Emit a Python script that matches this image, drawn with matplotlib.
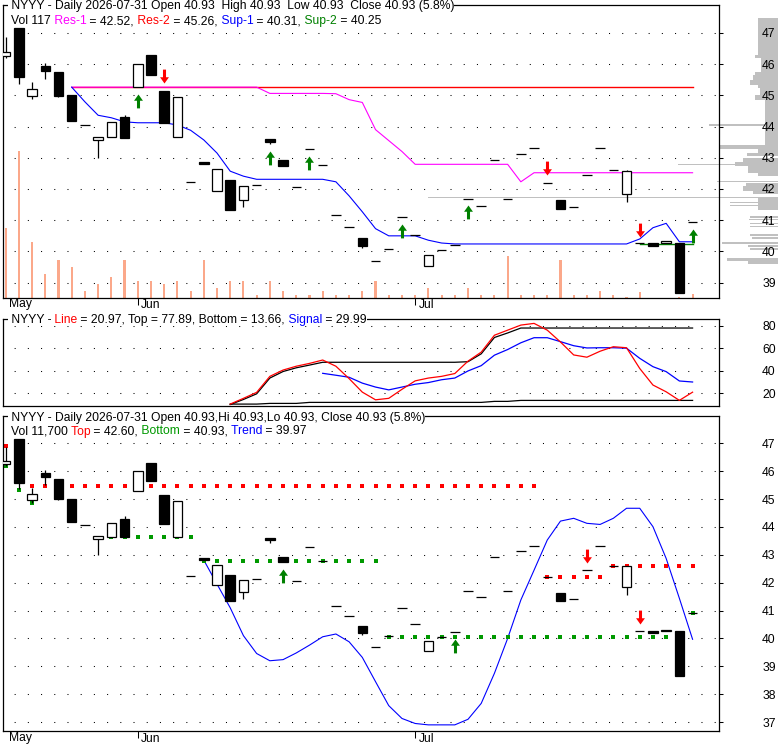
import numpy as np
import matplotlib
matplotlib.use('Agg')
import matplotlib.pyplot as plt
from matplotlib.path import Path
from matplotlib.transforms import blended_transform_factory, offset_copy

plt.rcParams['font.family'] = ['Liberation Sans', 'DejaVu Sans']
plt.rcParams['lines.scale_dashes'] = False

nan = np.nan

# ------------------------------------------------------------------ data
month_labels = ['May', 'Jun', 'Jul']
month_pos = [0, 10, 31]

opens = [46.27, 47.15, 44.97, 45.93, 45.73, 45.00, 44.06, 43.56, 43.65, 44.30,
         45.28, 46.29, 45.14, 43.65, 42.23, 42.87, 41.93, 42.28, 41.66, 42.12,
         43.60, 42.92, 42.05, 43.27, 42.78, 41.16, 40.79, 40.44, 39.70, 40.07,
         41.09, 40.52, 39.55, 40.05, 40.22, 41.69, 41.47, 42.92, 41.69, 43.12,
         43.30, 42.19, 41.64, 41.41, 42.45, 43.32, 42.60, 41.83, 40.26, 40.27,
         40.26, 40.27, 40.93]
highs = [46.87, 47.15, 45.41, 46.03, 45.73, 45.00, 44.06, 43.66, 44.13, 44.38,
         46.00, 46.29, 45.14, 44.93, 42.23, 42.87, 42.63, 42.28, 42.09, 42.12,
         43.60, 42.92, 42.05, 43.27, 42.78, 41.16, 40.79, 40.44, 39.70, 40.07,
         41.09, 40.52, 39.90, 40.05, 40.22, 41.69, 41.47, 42.92, 41.69, 43.12,
         43.30, 42.19, 41.64, 41.41, 42.45, 43.32, 42.60, 42.60, 40.26, 40.27,
         40.32, 40.27, 40.93]
lows = [46.18, 45.35, 44.87, 45.51, 44.95, 44.18, 44.06, 43.00, 43.65, 43.64,
        45.28, 45.66, 44.12, 43.65, 42.23, 42.80, 41.93, 41.33, 41.43, 42.12,
        43.44, 42.73, 42.05, 43.27, 42.78, 41.16, 40.79, 40.12, 39.70, 40.07,
        41.09, 40.52, 39.55, 40.05, 40.22, 41.69, 41.47, 42.92, 41.69, 43.12,
        43.30, 42.19, 41.35, 41.41, 42.45, 43.32, 42.60, 41.57, 40.26, 40.19,
        40.26, 38.66, 40.93]
closes = [46.37, 45.59, 45.19, 45.79, 44.99, 44.18, 44.06, 43.66, 44.13, 43.64,
          46.00, 45.66, 44.12, 44.93, 42.23, 42.80, 42.63, 41.33, 42.09, 42.12,
          43.52, 42.73, 42.05, 43.27, 42.78, 41.16, 40.79, 40.18, 39.70, 40.07,
          41.09, 40.52, 39.90, 40.05, 40.22, 41.69, 41.47, 42.92, 41.69, 43.12,
          43.30, 42.19, 41.35, 41.41, 42.45, 43.32, 42.60, 42.59, 40.26, 40.19,
          40.32, 38.66, 40.93]
volumes = [190000, 400000, 153000, 66000, 104000, 85000, 20000, 39000, 58000, 104000,
           47000, 47000, 39000, 47000, 20000, 104000, 28000, 47000, 47000, 9000,
           47000, 20000, 9000, 9000, 20000, 9000, 9000, 20000, 47000, 9000,
           9000, 9000, 28000, 9000, 9000, 28000, 9000, 9000, 115000, 9000,
           9000, 9000, 104000, 9000, 9000, 20000, 9000, 4000, 17000, 0,
           0, 4000, 11700]

res1 = [nan] * 5 + [45.26] * 15 + [45.06] * 5 + [45.05, 44.86, 44.77, 43.90, 43.55, 43.20] \
       + [42.79] * 8 + [42.23] + [42.52] * 13
res2 = [nan] * 5 + [45.26] * 48
sup1 = [nan] * 5 + [45.26, 44.79, 44.36, 44.28, 44.15, 44.12, 44.12, 44.12, 44.05, 43.88,
                    43.57, 43.15, 42.57, 42.41, 42.31] + [42.31] * 5 \
       + [42.23, 41.78, 41.27, 40.73, 40.50, 40.50, 40.50, 40.36, 40.27] + [40.24] * 14 \
       + [40.40, 40.76, 40.90, 40.31, 40.31]
sup2 = [nan] * 48 + [40.25] * 5

buy_top_idx = [10, 20, 23, 30, 35, 52]
buy_top_lvl = [45.03, 43.21, 43.05, 40.87, 41.48, 40.71]
sell_top_idx = [12, 41, 48]
sell_top_lvl = [45.39, 42.45, 40.47]

# volume-at-price profile (price band low/high, volume in thousands)
vap_lo = [46.29, 46.18, 45.75, 45.65, 45.49, 45.33, 45.22, 45.01, 44.85, 43.41, 44.02, 43.29,
          43.15, 43.05, 42.85, 42.75, 42.77, 42.50, 42.40, 42.23, 42.10, 41.95, 41.85, 41.71,
          41.32, 41.54, 41.46, 41.08, 41.00, 40.88, 40.78, 40.50, 40.40, 40.23, 40.15, 40.05,
          39.68, 39.60]
vap_hi = [47.46, 46.29, 46.18, 45.75, 45.65, 45.49, 45.33, 45.22, 45.01, 44.85, 44.07, 43.40,
          43.29, 43.15, 42.99, 42.85, 42.81, 42.75, 42.50, 42.27, 42.20, 42.10, 41.95, 41.75,
          41.70, 41.57, 41.49, 41.12, 41.04, 40.92, 40.82, 40.56, 40.45, 40.29, 40.22, 40.12,
          39.78, 39.68]
vap_vol = [20, 23, 17, 23, 25, 28, 20, 18, 23, 13, 69, 58,
           20, 31, 35, 43, 100, 30, 20, 61, 32, 35, 25, 350,
           20, 48, 48, 28, 29, 28, 28, 28, 26, 56, 30, 28,
           51, 30]

osc_line = [nan] * 17 + [10.4, 15.5, 20.8, 35.0, 40.6, 44.0, 46.5, 49.5, 44.0, 33.0,
                         21.0, 14.2, 15.5, 23.5, 31.0, 33.5, 35.0, 37.5, 48.5, 56.5,
                         71.5, 76.0, 80.5, 82.0, 76.0, 65.5, 54.0, 52.0, 57.3, 61.3,
                         60.4, 42.0, 27.3, 21.3, 13.7, 20.97]
osc_signal = [nan] * 24 + [37.7, 36.0, 34.2, 29.0, 25.5, 23.0, 25.5, 28.0, 29.5, 32.0,
                           33.5, 39.8, 44.5, 53.8, 58.8, 64.8, 69.3, 69.3, 65.8, 62.2,
                           60.2, 60.4, 60.4, 60.0, 51.0, 43.6, 39.2, 30.9, 29.99]
osc_top = [nan] * 17 + [10.0, 14.5, 19.5, 33.5, 39.3, 42.6, 45.0, 47.5] + [47.5] * 10 \
          + [48.0, 55.0, 69.5, 73.5] + [77.89] * 14
osc_bottom = [nan] * 17 + [10.4] * 3 + [11.0] * 3 + [11.9] * 14 + [12.8] * 2 + [13.66] * 14

band_top = [46.90, nan] + [45.47] * 39 + [42.20] * 5 + [42.59] * 7
band_bottom = [46.19, 45.31, 44.85] + [nan] * 5 + [43.63] * 7 + [42.77] * 14 + [40.05] * 23 + [40.93]
trend = [nan] * 15 + [42.81, 41.95, 41.10, 40.10, 39.46, 39.20, 39.24, 39.48, 39.76, 40.06,
                      40.16, 39.88, 39.32, 38.45, 37.59, 37.13, 36.95, 36.90, 36.90, 36.90,
                      37.10, 37.67, 38.75, 40.00, 41.38, 42.45, 43.53, 44.21, 44.31, 44.13,
                      44.09, 44.31, 44.67, 44.67, 44.01, 42.87, 41.44, 39.97]
buy_bot_idx = [21, 34]
buy_bot_lvl = [42.48, 39.97]
sell_bot_idx = [44, 48]
sell_bot_lvl = [42.72, 40.52]

# ------------------------------------------------------------------ style
W, H = 780, 745
FS = 8.7
MAG, RED, BLUE, GREEN, DGREEN = '#FF00FF', '#FF0000', '#0000FF', '#008000', '#009900'
VOLC = '#FBA88A'
GRAYC = '#C0C0C0'
N = len(closes)
idx = np.arange(N)
XLIM = (-0.2, 54.0)
SPW = 0.9


def rect(l, t, r, b):
    return [l / W, 1 - b / H, (r - l) / W, (b - t) / H]


up_path = Path([(0, 0), (0.32, -0.45), (0.11, -0.45), (0.11, -1), (-0.11, -1),
                (-0.11, -0.45), (-0.32, -0.45), (0, 0)],
               [Path.MOVETO] + [Path.LINETO] * 6 + [Path.CLOSEPOLY])
down_path = Path([(x, -y) for x, y in up_path.vertices], up_path.codes)

fig = plt.figure(figsize=(W / 100, H / 100), dpi=100)
fig.patch.set_facecolor('white')


def style_price_axes(ax, ylim, yticks):
    ax.set_xlim(*XLIM)
    ax.set_ylim(*ylim)
    ax.set_yticks(yticks)
    ax.yaxis.tick_right()
    ax.tick_params(axis='y', length=3, width=0.75, pad=28, labelsize=FS, direction='out')
    ax.yaxis.grid(True, linestyle=(1.5, (0.75, 8.76)), color='black', linewidth=0.75)
    ax.set_axisbelow(True)
    for s in ax.spines.values():
        s.set_linewidth(SPW)


def draw_candles(ax):
    o = np.array(opens); c = np.array(closes)
    ax.vlines(idx, lows, highs, color='black', lw=0.9, zorder=3)
    lo = np.minimum(o, c)
    hgt = np.abs(c - o)
    cols = ['white' if cc > oo else 'black' for oo, cc in zip(o, c)]
    ax.bar(idx, hgt, bottom=lo, width=0.72, color=cols, edgecolor='black',
           linewidth=0.9, zorder=4)


def month_axis(ax, ypad):
    ax.set_xticks([p for p in month_pos if p > 0])
    ax.tick_params(axis='x', length=5, width=0.75, direction='out', labelbottom=False)
    tr = offset_copy(blended_transform_factory(ax.transData, ax.transAxes),
                     fig=fig, x=3.5, y=-ypad, units='dots')
    for lab, p in zip(month_labels, month_pos):
        ax.text(p, 0, lab, transform=tr, ha='left', va='top', fontsize=FS)


def rainbow(ax, x, y, parts, box=False):
    kw = dict(fontsize=FS, annotation_clip=False, zorder=10)
    if box:
        kw['bbox'] = dict(boxstyle='square,pad=0', fc='white', ec='none')
    prev = ax.annotate(parts[0][0], xy=(x, H - y), xycoords='figure pixels',
                       va='center', ha='left', color=parts[0][1], **kw)
    for s, c in parts[1:]:
        prev = ax.annotate(s, xy=(1, 0), xycoords=prev, va='bottom', ha='left',
                           color=c, **kw)


# ------------------------------------------------------------------ top panel
TOP_YLIM = (38.51, 47.89)
axh = fig.add_axes(rect(0, 5, 778, 298))
axh.set_xlim(778, 0)
axh.set_ylim(*TOP_YLIM)
axh.barh(vap_lo, vap_vol, height=np.array(vap_hi) - np.array(vap_lo), left=0,
         align='edge', color=GRAYC, linewidth=0)
axh.axis('off')

axv = fig.add_axes(rect(3, 5, 719, 298))
axv.set_xlim(*XLIM)
axv.set_ylim(0, 797000)
axv.bar(idx, volumes, width=0.16, color=VOLC, linewidth=0)
axv.axis('off')

ax1 = fig.add_axes(rect(3, 5, 719, 298))
ax1.set_facecolor('none')
style_price_axes(ax1, TOP_YLIM, range(39, 48))
ax1.plot(idx, res2, color=RED, lw=1.0, zorder=2)
ax1.plot(idx, res1, color=MAG, lw=0.8, zorder=2.1)
ax1.plot(idx, sup2, color=GREEN, lw=1.0, zorder=2)
ax1.plot(idx, sup1, color=BLUE, lw=0.8, zorder=2.2)
draw_candles(ax1)
ax1.plot(buy_top_idx, buy_top_lvl, ls='none', marker=up_path, markersize=20,
         color=GREEN, markeredgewidth=0, zorder=6)
ax1.plot(sell_top_idx, sell_top_lvl, ls='none', marker=down_path, markersize=20,
         color=RED, markeredgewidth=0, zorder=6)
month_axis(ax1, 0.5)
rainbow(ax1, 7.5, 6, [(' NYYY - Daily 2026-07-31 Open 40.93  High 40.93  Low 40.93  Close 40.93 (5.8%)', 'black')], box=True)
rainbow(ax1, 11, 21, [('Vol 117', 'black'), (' Res-1', MAG), (' = 42.52,', 'black'),
                      (' Res-2', RED), (' = 45.26,', 'black'), (' Sup-1', BLUE),
                      (' = 40.31,', 'black'), (' Sup-2', GREEN), (' = 40.25', 'black')])

# ------------------------------------------------------------------ middle panel
ax2 = fig.add_axes(rect(3, 319, 719, 406))
style_price_axes(ax2, (8.7, 85.9), [20, 40, 60, 80])
ax2.set_xticks([])
ax2.plot(idx, osc_top, color='black', lw=0.9, zorder=2)
ax2.plot(idx, osc_bottom, color='black', lw=0.9, zorder=2)
ax2.plot(idx, osc_signal, color=BLUE, lw=0.9, zorder=3)
ax2.plot(idx, osc_line, color=RED, lw=0.9, zorder=4)
rainbow(ax2, 7.5, 320, [(' NYYY -', 'black'), (' Line', RED),
                        (' = 20.97, Top = 77.89, Bottom = 13.66,', 'black'),
                        (' Signal', BLUE), (' = 29.99', 'black')], box=True)

# ------------------------------------------------------------------ bottom panel
ax3 = fig.add_axes(rect(3, 416, 719, 731))
style_price_axes(ax3, (36.68, 47.98), range(37, 48))
ax3.plot(idx, trend, color=BLUE, lw=0.8, zorder=2)
ax3.plot(idx, band_top, ls='none', marker='s', markersize=2.2, color=RED,
         markeredgewidth=0, zorder=2.5)
ax3.plot(idx, band_bottom, ls='none', marker='s', markersize=2.2, color=DGREEN,
         markeredgewidth=0, zorder=2.5)
draw_candles(ax3)
ax3.plot(buy_bot_idx, buy_bot_lvl, ls='none', marker=up_path, markersize=20,
         color=GREEN, markeredgewidth=0, zorder=6)
ax3.plot(sell_bot_idx, sell_bot_lvl, ls='none', marker=down_path, markersize=20,
         color=RED, markeredgewidth=0, zorder=6)
month_axis(ax3, 1.5)
rainbow(ax3, 7.5, 417.5, [(' NYYY - Daily 2026-07-31 Open 40.93,Hi 40.93,Lo 40.93, Close 40.93 (5.8%)', 'black')], box=True)
rainbow(ax3, 11, 431.5, [('Vol 11,700', 'black'), (' Top', RED), (' = 42.60,', 'black'),
                         (' Bottom', DGREEN), (' = 40.93,', 'black'), (' Trend', BLUE),
                         (' = 39.97', 'black')])

fig.savefig('out.png', dpi=100, facecolor='white')
